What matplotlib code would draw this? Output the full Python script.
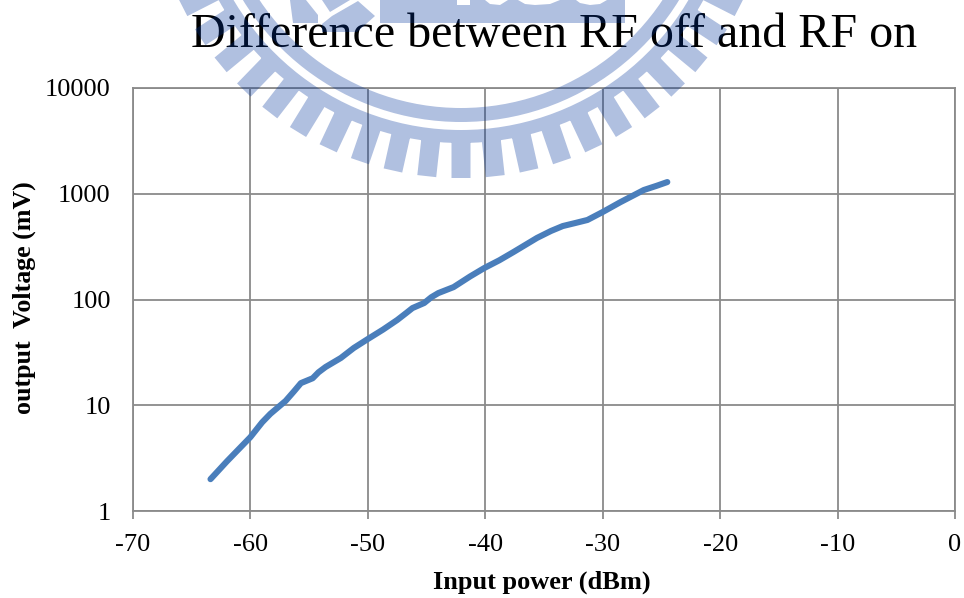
import numpy as np
import matplotlib
matplotlib.use("Agg")
import matplotlib.pyplot as plt
from matplotlib.patches import Wedge, PathPatch
from matplotlib.path import Path

power = [-63.4, -62, -60, -59, -58.3, -57, -56.3, -55.7, -54.7, -54.2, -53.6, -52.3, -51.2, -50,
         -48.7, -47.5, -46.7, -46.2, -45.2, -44.6, -44, -42.7, -41.3, -40.1, -38.8, -37.6,
         -35.6, -34.4, -33.4, -32.3, -31.3, -30, -28.5, -26.5, -25.4, -24.5]
voltage = [2, 2.95, 5, 6.9, 8.3, 11, 13.5, 16.2, 18, 20.5, 23, 28, 34.8, 42.3,
           52, 64, 75, 83, 92.7, 105, 115, 131, 165, 198, 235, 281,
           382, 445, 495, 530, 565, 672, 832, 1085, 1190, 1290]

x_ticks = [-70, -60, -50, -40, -30, -20, -10, 0]
y_ticks = [1, 10, 100, 1000, 10000]
y_tick_labels = ['1', '10', '100', '1000', '10000']

title = 'Difference between RF off and RF on'
x_label = 'Input power (dBm)'
y_label = 'output  Voltage (mV)'

plt.rcParams['font.family'] = ['Liberation Serif', 'DejaVu Serif']
plt.rcParams['axes.unicode_minus'] = False
W, H = 964, 598
grid_col = '#8a8a8a'

fig = plt.figure(figsize=(W / 100, H / 100), dpi=100)
ax = fig.add_axes([133 / W, 1 - 511 / H, 822 / W, 423 / H])
ax.plot(power, voltage, color='#4a7ebb', lw=4.4, solid_capstyle='round', solid_joinstyle='round')
ax.set_yscale('log')
ax.set_xlim(-70, 0)
ax.set_ylim(1, 10000)
ax.set_xticks(x_ticks)
ax.set_yticks(y_ticks)
ax.set_yticklabels(y_tick_labels)
ax.minorticks_off()
ax.grid(True, color=grid_col, lw=1.3)
ax.set_axisbelow(True)
for s in ax.spines.values():
    s.set_color(grid_col)
    s.set_linewidth(1.3)
ax.tick_params(axis='x', length=5.8, width=1.3, color=grid_col, labelsize=19, pad=10.5)
ax.tick_params(axis='y', length=0, labelsize=19, pad=16)

fig.text(554 / W, 1 - 35 / H, title, fontsize=34.6, ha='center', va='center')
fig.text(542 / W, 1 - 582 / H, x_label, fontsize=19, fontweight='bold', ha='center', va='center')
fig.text(24 / W, 1 - 298 / H, y_label, fontsize=18.7, fontweight='bold', rotation=90, ha='center', va='center')

# watermark, laid over everything in pixel coords so it tints like a multiply
wm = fig.add_axes([0, 0, 1, 1], zorder=10)
wm.set_xlim(0, W)
wm.set_ylim(H, 0)
wm.axis('off')
cx, cy = 461, -134
paths = [Wedge((cx, cy), 256, 15, 165, width=14).get_path(),
         Wedge((cx, cy), 277, 15, 165, width=13).get_path()]
for i in range(-10, 11):
    # teeth keep a constant width, they do not taper
    t = np.radians(90 + i * 6.3)
    ux, uy = np.cos(t), np.sin(t)
    vx, vy = -uy * 9.5, ux * 9.5
    x0, y0 = cx + 272 * ux, cy + 272 * uy
    x1, y1 = cx + 312 * ux, cy + 312 * uy
    paths.append(Path([(x0 - vx, y0 - vy), (x1 - vx, y1 - vy), (x1 + vx, y1 + vy),
                       (x0 + vx, y0 + vy), (x0 - vx, y0 - vy)], closed=True))

# blocks with the bottoms of the digits cut from the top edge
block = [(380, 0), (380, 23), (625, 23), (625, 0), (607, 0), (600, 4), (590, 5), (580, 3), (576, 0),
         (560, 0), (550, 4), (535, 5), (525, 4), (518, 0), (508, 0), (500, 5), (490, 4), (485, 0),
         (470, 0), (470, 5), (457, 5), (457, 0)]
shapes = [block,
          [(290, 0), (293, 23), (318, 23), (318, 15), (306, 0)],
          [(322, 0), (330, 12), (350, 0)],
          [(358, 1), (375, 16), (357, 32), (322, 32), (322, 24), (332, 16)]]
for pts in shapes:
    paths.append(Path(pts + [pts[0]], closed=True))

wm.add_patch(PathPatch(Path.make_compound_path(*paths), facecolor=(0, 52 / 255, 155 / 255),
                       edgecolor='none', alpha=0.31))

fig.savefig('out.png', dpi=100)
